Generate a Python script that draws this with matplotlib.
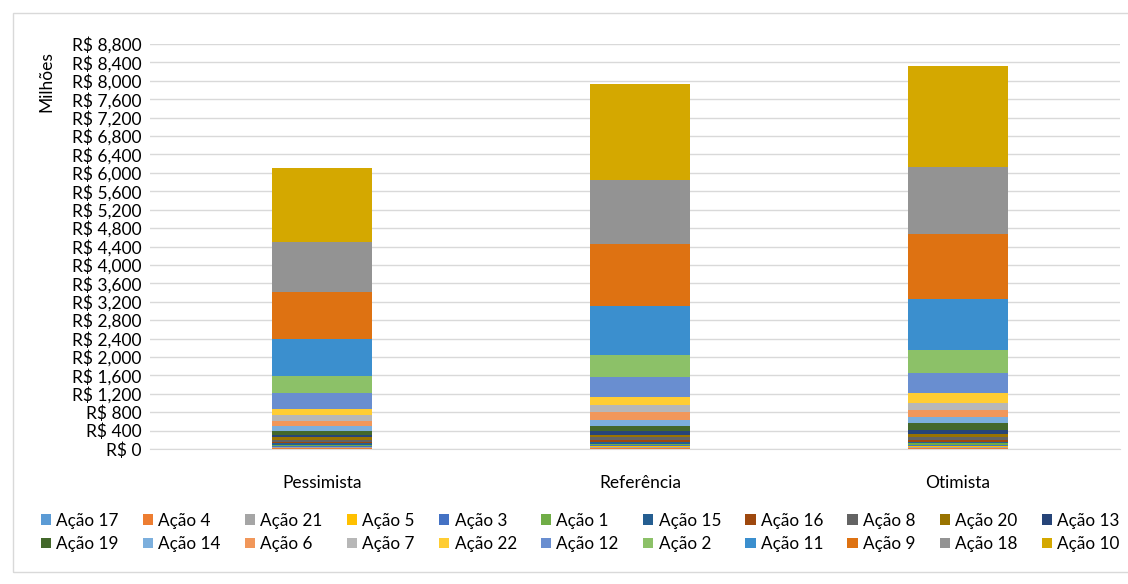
import numpy as np
import matplotlib.pyplot as plt
from matplotlib.patches import Rectangle, Patch
from matplotlib.ticker import FuncFormatter, MultipleLocator

plt.rcParams['font.family'] = ['Lato', 'DejaVu Sans']

scenarios = ['Pessimista', 'Referência', 'Otimista']

# stacking order, bottom to top (also legend order)
series = ['Ação 17', 'Ação 4', 'Ação 21', 'Ação 5', 'Ação 3', 'Ação 1',
          'Ação 15', 'Ação 16', 'Ação 8', 'Ação 20', 'Ação 13', 'Ação 19',
          'Ação 14', 'Ação 6', 'Ação 7', 'Ação 22', 'Ação 12', 'Ação 2',
          'Ação 11', 'Ação 9', 'Ação 18', 'Ação 10']

# values in R$ millions: Pessimista, Referência, Otimista
values = {
    'Ação 17': [10, 10, 10],
    'Ação 4': [10, 15, 15],
    'Ação 21': [15, 15, 20],
    'Ação 5': [15, 20, 20],
    'Ação 3': [20, 25, 25],
    'Ação 1': [25, 30, 30],
    'Ação 15': [30, 35, 35],
    'Ação 16': [35, 45, 45],
    'Ação 8': [40, 55, 60],
    'Ação 20': [50, 65, 70],
    'Ação 13': [60, 75, 80],
    'Ação 19': [87, 109, 152],
    'Ação 14': [109, 130, 130],
    'Ação 6': [109, 174, 152],
    'Ação 7': [130, 152, 152],
    'Ação 22': [130, 174, 217],
    'Ação 12': [348, 435, 435],
    'Ação 2': [370, 478, 500],
    'Ação 11': [804, 1065, 1109],
    'Ação 9': [1022, 1348, 1413],
    'Ação 18': [1087, 1391, 1457],
    'Ação 10': [1609, 2087, 2196],
}

colors = ['#5B9BD5', '#ED7D31', '#A5A5A5', '#FFC000', '#4472C4', '#70AD47',
          '#255E91', '#9E480E', '#636363', '#997300', '#264478', '#43682B',
          '#7CAFDD', '#F1975A', '#B7B7B7', '#FFCD33', '#698ED0', '#8CC168',
          '#3B8FCE', '#DE7212', '#939393', '#D4A800']

fig = plt.figure(figsize=(11.28, 5.84), dpi=100)
ax = fig.add_axes([150 / 1128, (584 - 449) / 584, 970 / 1128, 405 / 584])

x = np.arange(len(scenarios))
bottom = np.zeros(len(scenarios))
handles = []
for name, c in zip(series, colors):
    v = np.array(values[name], dtype=float)
    ax.bar(x, v, 0.315, bottom=bottom, color=c, zorder=3)
    bottom += v
    handles.append(Patch(facecolor=c, label=name))

ax.set_xlim(-0.541, 2.509)
ax.set_ylim(0, 8800)
ax.yaxis.set_major_locator(MultipleLocator(400))
ax.yaxis.set_major_formatter(FuncFormatter(lambda v, p: f'R$ {v:,.0f}'))
ax.grid(axis='y', color='#D9D9D9', linewidth=1, zorder=0)
ax.set_xticks(x)
ax.set_xticklabels(scenarios)
ax.tick_params(axis='y', length=0, labelsize=12.5, colors='#000000', pad=6)
ax.tick_params(axis='x', length=0, labelsize=12.5, colors='#000000', pad=19)
for s in ['top', 'right', 'left']:
    ax.spines[s].set_visible(False)
ax.spines['bottom'].set_color('#D9D9D9')

fig.text(46 / 1128, 1 - 82 / 584, 'Milhões', rotation=90, ha='center',
         va='center', fontsize=12.5)

# legend filled row by row (matplotlib fills column by column)
ncol = 11
order = []
for col in range(ncol):
    order += [col, col + ncol]
leg_h = [handles[i] for i in order]
fig.legend(handles=leg_h, ncol=ncol, loc='upper left',
           bbox_to_anchor=(34 / 1128, 1 - 506 / 584), frameon=False,
           fontsize=12.3, handlelength=0.6, handleheight=0.6,
           handletextpad=0.3, columnspacing=1.42, labelspacing=0.42,
           borderaxespad=0)

# outer chart border
fig.patches.append(Rectangle((13 / 1128, 0.02), 1.2, 1 - 13 / 584 - 0.02,
                             transform=fig.transFigure, fill=False,
                             edgecolor='#D9D9D9', linewidth=1))

fig.savefig('out.png', dpi=100)
